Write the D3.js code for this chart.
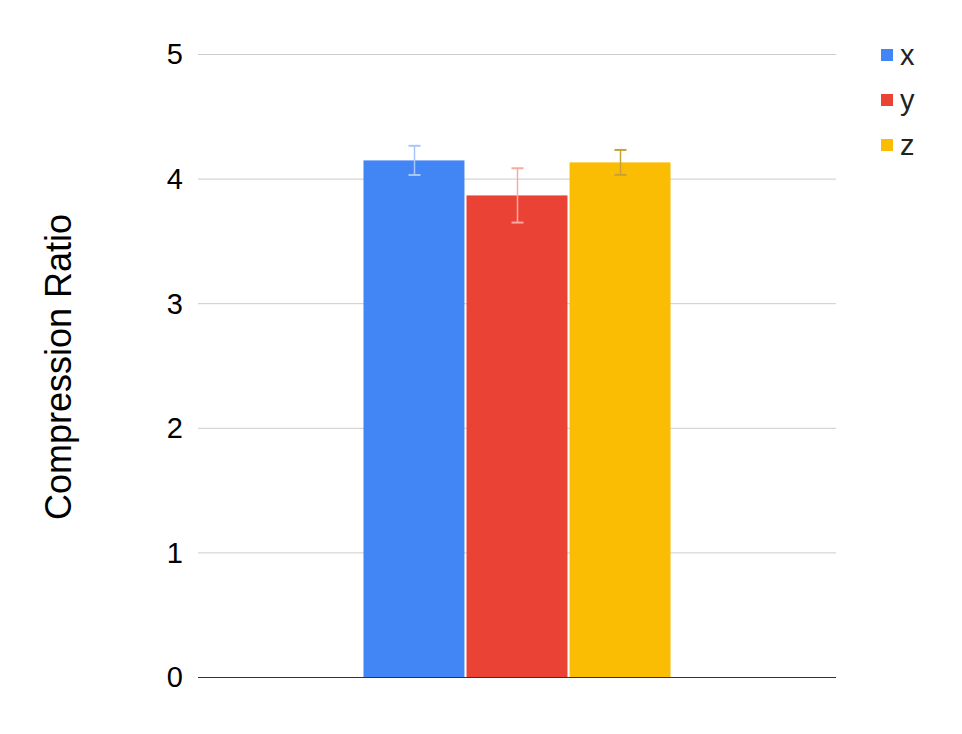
<!DOCTYPE html>
<html><head><meta charset="utf-8">
<script src="https://cdn.jsdelivr.net/npm/d3@7"></script>
<style>body{margin:0;background:#fff}svg{display:block;font-family:Arial,"Liberation Sans",sans-serif}</style>
</head><body><svg id="c" width="962" height="734"></svg>
<script>
const categories = ["group"];
const seriesNames = ["x", "y", "z"];
const seriesValues = [4.146, 3.865, 4.13];
const seriesErrors = [0.117, 0.218, 0.1];
const seriesColors = ["#4285f4", "#ea4335", "#fbbc04"];
const errorColors = ["#a9c6fa", "#f5aaa4", "#c9a035"];
const yTicks = [0, 1, 2, 3, 4, 5];
const yTitle = "Compression Ratio";

const svg = d3.select("#c");
const m = {left: 198, right: 126, top: 54, bottom: 57};
const W = 962, H = 734;
const y = d3.scaleLinear().domain([0, 5]).range([H - m.bottom, m.top]);
const x0 = d3.scaleBand().domain(categories).range([m.left, W - m.right]).paddingOuter(0.539);
const x1 = d3.scaleBand().domain(seriesNames).range([0, x0.bandwidth()]).paddingInner(0.02);

// gridlines
svg.append("g").selectAll("line").data(yTicks.filter(d => d > 0)).join("line")
  .attr("x1", m.left).attr("x2", W - m.right)
  .attr("y1", d => y(d) + 0.5).attr("y2", d => y(d) + 0.5)
  .attr("stroke", "#cccccc").attr("stroke-width", 1);

// tick labels
svg.append("g").selectAll("text").data(yTicks).join("text")
  .attr("x", 183).attr("y", d => y(d)).attr("dy", "0.36em")
  .attr("text-anchor", "end").attr("font-size", 29).attr("fill", "#000")
  .text(d => d);

// bars
const data = seriesNames.map((s, i) => ({s, v: seriesValues[i], e: seriesErrors[i], c: seriesColors[i], ec: errorColors[i], cat: categories[0]}));
const g = svg.append("g");
g.selectAll("rect").data(data).join("rect")
  .attr("x", d => x0(d.cat) + x1(d.s)).attr("width", x1.bandwidth())
  .attr("y", d => y(d.v)).attr("height", d => y(0) - y(d.v))
  .attr("fill", d => d.c);

// error bars
const eb = svg.append("g");
data.forEach(d => {
  const cx = Math.round(x0(d.cat) + x1(d.s) + x1.bandwidth() / 2) + 0.5;
  const t = y(d.v + d.e), b = y(d.v - d.e);
  eb.append("line").attr("x1", cx).attr("x2", cx).attr("y1", t).attr("y2", b).attr("stroke", d.ec).attr("stroke-width", 1.5);
  [t, b].forEach(yy => eb.append("line").attr("x1", cx - 6).attr("x2", cx + 6).attr("y1", yy).attr("y2", yy).attr("stroke", d.ec).attr("stroke-width", 2));
});

// baseline
svg.append("line").attr("x1", m.left).attr("x2", W - m.right)
  .attr("y1", y(0) + 0.5).attr("y2", y(0) + 0.5).attr("stroke", "#333").attr("stroke-width", 1);

// y title
svg.append("text").attr("transform", `translate(71,${367}) rotate(-90)`)
  .attr("text-anchor", "middle").attr("font-size", 36).attr("fill", "#000").text(yTitle);

// legend
const lg = svg.append("g").selectAll("g").data(data).join("g")
  .attr("transform", (d, i) => `translate(881,${49 + i * 45})`);
lg.append("rect").attr("width", 12).attr("height", 12).attr("fill", d => d.c);
lg.append("text").attr("x", 19).attr("y", 16).attr("font-size", 29).attr("fill", "#222").text(d => d.s);
</script></body></html>
